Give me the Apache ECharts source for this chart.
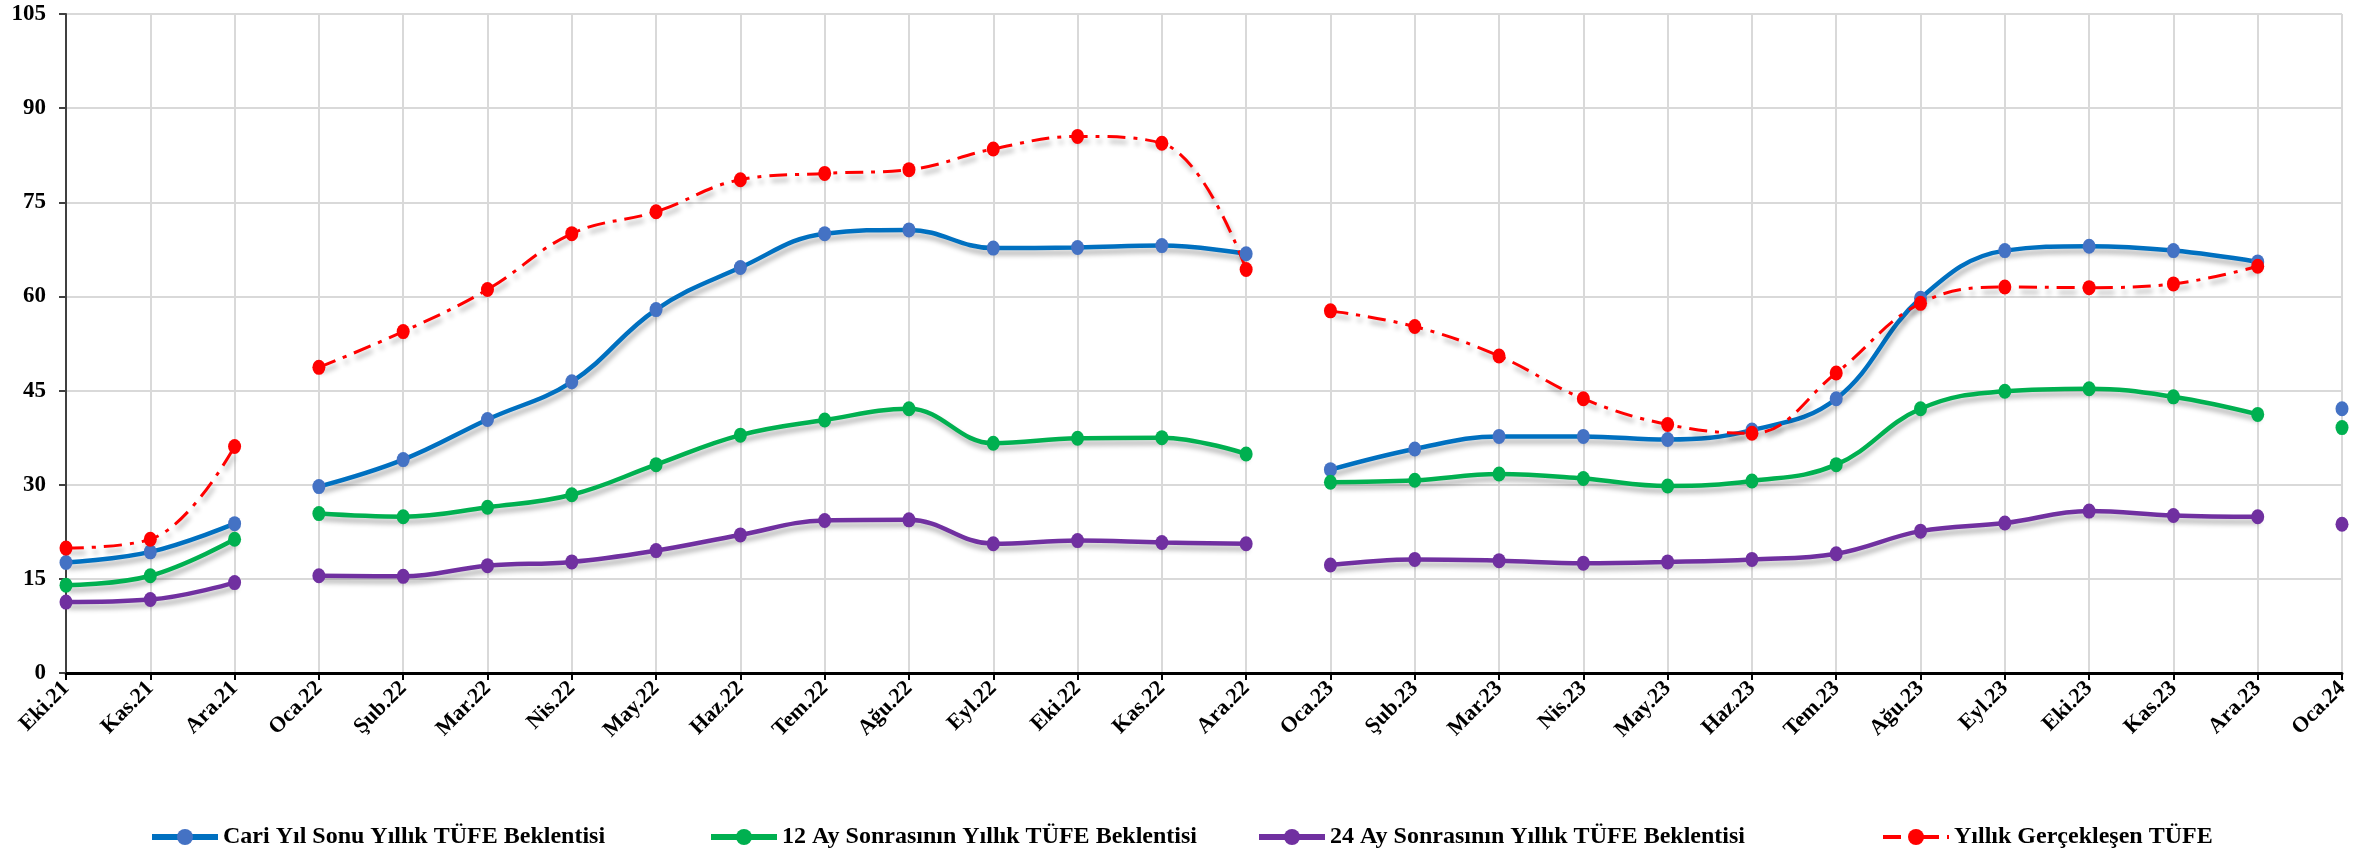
<!DOCTYPE html>
<html>
<head>
<meta charset="utf-8">
<script src="https://cdn.jsdelivr.net/npm/echarts@6.0.0/dist/echarts.min.js"></script>
<style>
  html, body { margin: 0; padding: 0; background: #fff; }
  #chart { width: 2372px; height: 855px; }
</style>
</head>
<body>
<div id="chart"></div>
<script>
  // aylar (x ekseni)
  const aylar = ['Eki.21', 'Kas.21', 'Ara.21',
    'Oca.22', 'Şub.22', 'Mar.22', 'Nis.22', 'May.22', 'Haz.22', 'Tem.22', 'Ağu.22', 'Eyl.22', 'Eki.22', 'Kas.22', 'Ara.22',
    'Oca.23', 'Şub.23', 'Mar.23', 'Nis.23', 'May.23', 'Haz.23', 'Tem.23', 'Ağu.23', 'Eyl.23', 'Eki.23', 'Kas.23', 'Ara.23',
    'Oca.24'];

  const cariYil = [17.6, 19.3, 23.8,
    29.7, 34.0, 40.4, 46.4, 57.9, 64.6, 70.0, 70.6, 67.7, 67.8, 68.1, 66.8,
    32.4, 35.7, 37.7, 37.7, 37.2, 38.7, 43.7, 59.7, 67.3, 68.0, 67.3, 65.5,
    42.1];
  const ay12 = [14.0, 15.5, 21.3,
    25.4, 24.9, 26.4, 28.4, 33.2, 37.9, 40.3, 42.1, 36.6, 37.4, 37.5, 34.9,
    30.4, 30.7, 31.7, 31.0, 29.8, 30.6, 33.2, 42.1, 44.9, 45.3, 44.0, 41.2,
    39.1];
  const ay24 = [11.3, 11.7, 14.4,
    15.5, 15.4, 17.1, 17.7, 19.5, 22.0, 24.3, 24.4, 20.6, 21.1, 20.8, 20.6,
    17.2, 18.1, 17.9, 17.5, 17.7, 18.1, 19.0, 22.6, 23.9, 25.8, 25.1, 24.9,
    23.7];
  const gerceklesen = [19.9, 21.3, 36.1,
    48.7, 54.4, 61.1, 70.0, 73.5, 78.6, 79.6, 80.2, 83.5, 85.5, 84.4, 64.3,
    57.7, 55.2, 50.5, 43.7, 39.6, 38.2, 47.8, 58.9, 61.5, 61.4, 62.0, 64.8,
    null];

  const yTicks = [0, 105, 15];

  const font = '"Liberation Serif", "Times New Roman", serif';

  // yil basinda (Oca) cizgi kopuyor
  const parcalar = [];
  let bas = 0;
  aylar.forEach((a, i) => {
    if (i > 0 && a.indexOf('Oca') === 0) {
      parcalar.push([bas, i - 1]);
      bas = i;
    }
  });
  parcalar.push([bas, aylar.length - 1]);

  function parca(arr, s, e) {
    return arr.map((v, i) => (i >= s && i <= e) ? v : null);
  }

  const tanimlar = [
    {name: 'Cari Yıl Sonu Yıllık TÜFE Beklentisi', data: cariYil, line: '#0070C0', dot: '#4472C4', type: 'solid', width: 4.5},
    {name: '12 Ay Sonrasının Yıllık TÜFE Beklentisi', data: ay12, line: '#00B050', dot: '#00B050', type: 'solid', width: 4.5},
    {name: '24 Ay Sonrasının Yıllık TÜFE Beklentisi', data: ay24, line: '#7030A0', dot: '#7030A0', type: 'solid', width: 4.5},
    {name: 'Yıllık Gerçekleşen TÜFE', data: gerceklesen, line: '#FF0000', dot: '#FF0000', type: [18, 8, 4, 8], width: 3}
  ];

  const series = [];
  tanimlar.forEach(t => {
    parcalar.forEach(p => {
      series.push({
        name: t.name,
        type: 'line',
        smooth: 0.4,
        symbol: 'circle',
        symbolSize: [13, 15],
        showSymbol: true,
        data: parca(t.data, p[0], p[1]),
        itemStyle: {color: t.dot},
        lineStyle: {
          color: t.line,
          width: t.width,
          type: t.type,
          shadowColor: 'rgba(0,0,0,0.3)',
          shadowBlur: 5,
          shadowOffsetX: 2,
          shadowOffsetY: 5
        },
        emphasis: {disabled: true}
      });
    });
  });

  const legendLeft = [144, 703, 1251, 1876];
  const legends = tanimlar.map((t, i) => ({
    left: legendLeft[i],
    top: 820,
    itemWidth: 66,
    itemHeight: 20,
    lineStyle: {width: i === 3 ? 4 : 6, shadowBlur: 0, shadowOffsetX: 0, shadowOffsetY: 0},
    textStyle: {fontFamily: font, fontWeight: 'bold', fontSize: 24, color: '#000'},
    data: [t.name]
  }));

  const myChart = echarts.init(document.getElementById('chart'));
  const option = {
    animation: false,
    backgroundColor: '#fff',
    grid: {left: 66, right: 30, top: 14, bottom: 182},
    legend: legends,
    xAxis: {
      type: 'category',
      boundaryGap: false,
      data: aylar,
      axisLine: {lineStyle: {color: '#000', width: 3}},
      axisTick: {show: true, length: 7, lineStyle: {color: '#000', width: 2}},
      axisLabel: {
        rotate: 45,
        margin: 12,
        interval: 0,
        fontFamily: font,
        fontWeight: 'bold',
        fontSize: 22,
        color: '#000'
      },
      splitLine: {show: true, lineStyle: {color: '#D9D9D9', width: 2}}
    },
    yAxis: {
      type: 'value',
      min: yTicks[0],
      max: yTicks[1],
      interval: yTicks[2],
      axisLine: {show: true, lineStyle: {color: '#404040', width: 2}},
      axisTick: {show: true, length: 7, lineStyle: {color: '#404040', width: 2}},
      axisLabel: {
        margin: 20,
        fontFamily: font,
        fontWeight: 'bold',
        fontSize: 23,
        color: '#000'
      },
      splitLine: {show: true, lineStyle: {color: '#D9D9D9', width: 2}}
    },
    series: series
  };
  myChart.setOption(option);
</script>
</body>
</html>
